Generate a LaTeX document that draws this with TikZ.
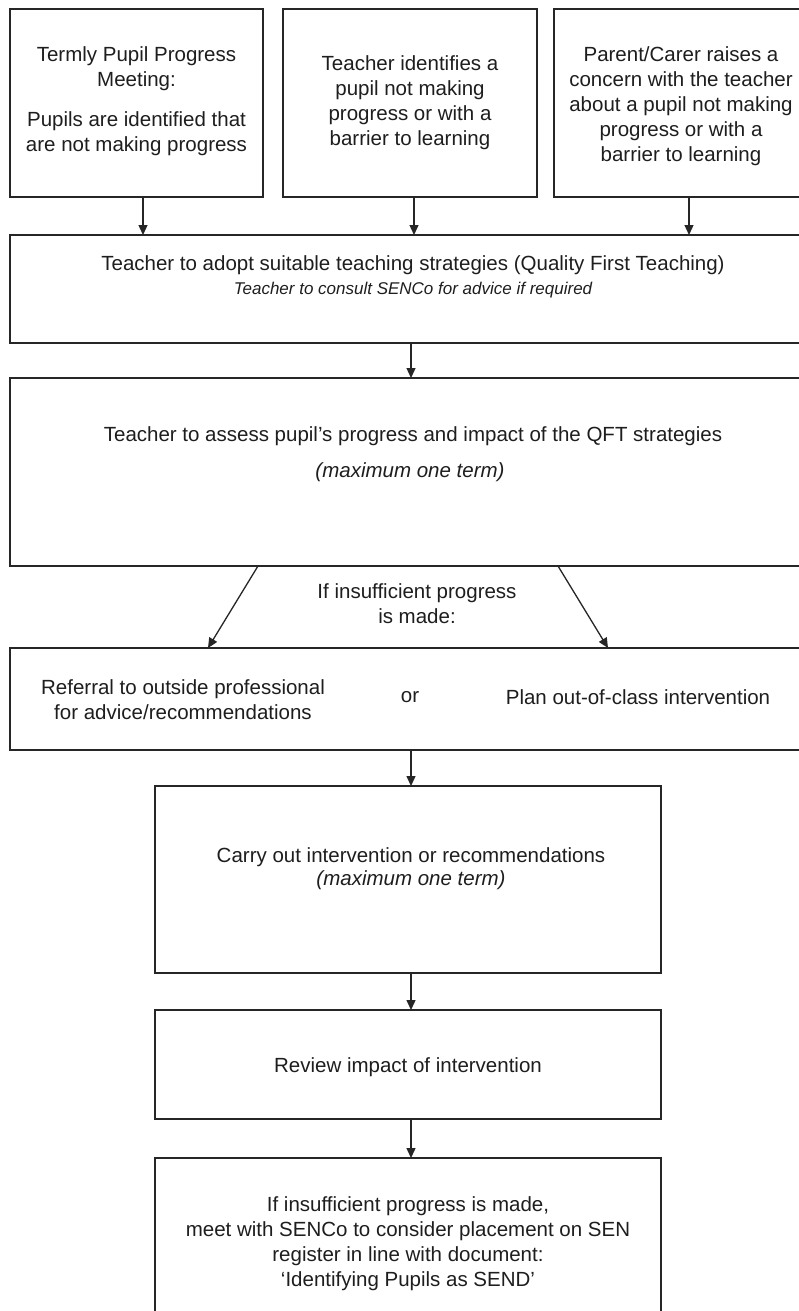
\documentclass[tikz,border=0pt]{standalone}
\usepackage{fontspec}
\setmainfont{Liberation Sans}
\usetikzlibrary{arrows.meta}
\definecolor{ink}{HTML}{1E1E1E}
\definecolor{rule}{HTML}{262626}
\begin{document}
\begin{tikzpicture}[x=1pt,y=-1pt,
  box/.style={draw=rule, line width=1.5pt, inner sep=0pt, outer sep=0pt, anchor=north west},
  txt/.style={text=ink, font=\fontsize{20.5}{25}\selectfont, align=center, inner sep=0pt},
  itx/.style={text=ink, font=\fontsize{17}{20}\selectfont\itshape, align=center, inner sep=0pt},
  itm/.style={text=ink, font=\fontsize{20.5}{25}\selectfont\itshape, align=center, inner sep=0pt},
  arr/.style={draw=rule, line width=1.3pt, -{Triangle[length=10pt,width=9pt]}}]
\useasboundingbox (0,0) rectangle (799,1311);
\fill[white] (0,0) rectangle (799,1311);

% boxes
\node[box, minimum width=253pt, minimum height=188pt] (b1) at (10,9) {};
\node[box, minimum width=254pt, minimum height=188pt] (b2) at (283,9) {};
\node[box, minimum width=254pt, minimum height=188pt] (b3) at (554,9) {};
\node[box, minimum width=820pt, minimum height=108pt] (qft) at (10,235) {};
\node[box, minimum width=820pt, minimum height=188pt] (assess) at (10,378) {};
\node[box, minimum width=820pt, minimum height=102pt] (ref) at (10,648) {};
\node[box, minimum width=506pt, minimum height=187pt] (carry) at (155,786) {};
\node[box, minimum width=506pt, minimum height=109pt] (review) at (155,1010) {};
\node[box, minimum width=506pt, minimum height=200pt] (final) at (155,1158) {};

% texts
\node[txt] (t1) at (136.5,101) {Termly Pupil Progress\\Meeting:\\[15pt]Pupils are identified that\\are not making progress};
\node[txt] (t2) at (410,103) {Teacher identifies a\\pupil not making\\progress or with a\\barrier to learning};
\node[txt] (t3) at (681,106) {Parent/Carer raises a\\concern with the teacher\\about a pupil not making\\progress or with a\\barrier to learning};
\node[txt] (tq) at (413,265) {Teacher to adopt suitable teaching strategies (Quality First Teaching)};
\node[itx] (tqi) at (413,290) {Teacher to consult SENCo for advice if required};
\node[txt] (ta) at (413,436) {Teacher to assess pupil’s progress and impact of the QFT strategies};
\node[itm] (tai) at (410,472) {(maximum one term)};
\node[txt] (tif) at (417,604) {If insufficient progress\\is made:};
\node[txt] (tr) at (183,700) {Referral to outside professional\\for advice/recommendations};
\node[txt] (tor) at (410,697) {or};
\node[txt] (tp) at (638,697) {Plan out-of-class intervention};
\node[txt] (tc) at (411,857) {Carry out intervention or recommendations};
\node[itm] (tci) at (411,880) {(maximum one term)};
\node[txt] (tv) at (408,1067) {Review impact of intervention};
\node[txt] (tf) at (408,1244) {If insufficient progress is made,\\meet with SENCo to consider placement on SEN\\register in line with document:\\‘Identifying Pupils as SEND’};

% connectors
\coordinate (axis) at (411,0);
\draw[arr] ([xshift=6.5pt]b1.south) -- ([xshift=6.5pt]b1.south |- qft.north);
\draw[arr] ([xshift=4pt]b2.south) -- ([xshift=4pt]b2.south |- qft.north);
\draw[arr] ([xshift=8pt]b3.south) -- ([xshift=8pt]b3.south |- qft.north);
\draw[arr] (qft.south -| axis) -- (assess.north -| axis);
\coordinate (l0) at (258,0);
\coordinate (l1) at (208,0);
\coordinate (r0) at (558,0);
\coordinate (r1) at (608,0);
\draw[arr] (assess.south -| l0) -- (ref.north -| l1);
\draw[arr] (assess.south -| r0) -- (ref.north -| r1);
\draw[arr] (ref.south -| axis) -- (carry.north -| axis);
\draw[arr] (carry.south -| axis) -- (review.north -| axis);
\draw[arr] (review.south -| axis) -- (final.north -| axis);
\end{tikzpicture}
\end{document}
